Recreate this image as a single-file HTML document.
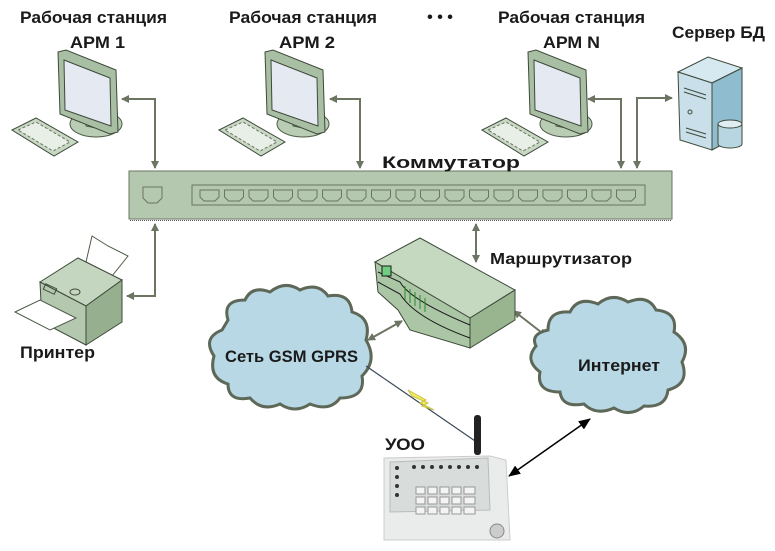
<!DOCTYPE html>
<html><head><meta charset="utf-8"><style>
html,body{margin:0;padding:0;background:#fff;}
svg{display:block;}
text{font-family:"Liberation Sans",sans-serif;font-weight:bold;fill:#1a1a1a;}
</style></head><body>
<svg width="775" height="551" viewBox="0 0 775 551" xmlns="http://www.w3.org/2000/svg">
<defs>
<marker id="ah" markerWidth="8" markerHeight="8" refX="7" refY="4" orient="auto" markerUnits="userSpaceOnUse"><path d="M0,0 L8,4 L0,8 z" fill="#6b7561"/></marker>
<marker id="ahs" markerWidth="8" markerHeight="8" refX="1" refY="4" orient="auto" markerUnits="userSpaceOnUse"><path d="M8,0 L0,4 L8,8 z" fill="#6b7561"/></marker>
<marker id="bk" markerWidth="12" markerHeight="10" refX="11" refY="5" orient="auto" markerUnits="userSpaceOnUse"><path d="M0,0 L12,5 L0,10 z" fill="#000"/></marker>
<marker id="bks" markerWidth="12" markerHeight="10" refX="1" refY="5" orient="auto" markerUnits="userSpaceOnUse"><path d="M12,0 L0,5 L12,10 z" fill="#000"/></marker>
<g id="pc">
 <ellipse cx="38" cy="72" rx="26" ry="13" fill="#b9cdb4" stroke="#4d5a48"/>
 <path d="M28,60 L48,66 L48,78 L28,74z" fill="#a7bda2" stroke="#4d5a48"/>
 <path d="M0,0 L8,-2 L58,18 L60,80 L52,82 L2,62z" fill="#a9bfa4" stroke="#3e4a3a"/>
 <path d="M6,8 L52,26 L53,74 L7,58z" fill="#e4e9f2" stroke="#3e4a3a"/>
 <path d="M-46,78 L-22,66 L20,90 L-4,104z" fill="#c9d8c5" stroke="#3e4a3a"/>
 <path d="M-40,78 L-22,70 L12,90 L-5,99z" fill="#e8efe6" stroke="#6b7561" stroke-dasharray="3,2"/>
</g>
</defs>

<g font-size="17">
<text x="20" y="23" textLength="147" lengthAdjust="spacingAndGlyphs">Рабочая станция</text>
<text x="70" y="48" textLength="55" lengthAdjust="spacingAndGlyphs">АРМ 1</text>
<text x="229" y="23" textLength="148" lengthAdjust="spacingAndGlyphs">Рабочая станция</text>
<text x="279" y="48" textLength="56" lengthAdjust="spacingAndGlyphs">АРМ 2</text>
<text x="498" y="23" textLength="147" lengthAdjust="spacingAndGlyphs">Рабочая станция</text>
<text x="543" y="48" textLength="57" lengthAdjust="spacingAndGlyphs">АРМ N</text>
<text x="672" y="38" textLength="93" lengthAdjust="spacingAndGlyphs">Сервер БД</text>
</g>
<text x="440" y="22" font-size="16" text-anchor="middle">• • •</text>

<use href="#pc" x="58" y="52"/>
<use href="#pc" x="265" y="52"/>
<use href="#pc" x="528" y="52"/>

<path d="M678,72 L708,57 L742,68 L712,83z" fill="#d6e8f0" stroke="#3e4a3a"/>
<path d="M678,72 L712,83 L712,150 L680,140z" fill="#c9e0ea" stroke="#3e4a3a"/>
<path d="M712,83 L742,68 L742,134 L712,150z" fill="#8fbccf" stroke="#3e4a3a"/>
<path d="M684,88 L706,95 M684,92 L706,99 M686,128 L706,134 M686,132 L706,138" stroke="#3e4a3a"/>
<circle cx="690" cy="112" r="2" fill="none" stroke="#3e4a3a"/>
<path d="M718,124 L718,144 A12,4 0 0 0 742,144 L742,124" fill="#b8d6e2" stroke="#3e4a3a"/>
<ellipse cx="730" cy="124" rx="12" ry="4" fill="#e0eef3" stroke="#3e4a3a"/>

<g stroke="#6b7561" stroke-width="2" fill="none">
<path d="M155,168 L155,99 L122,99" marker-end="url(#ah)" marker-start="url(#ahs)"/>
<path d="M360,168 L360,99 L330,99" marker-end="url(#ah)" marker-start="url(#ahs)"/>
<path d="M621,168 L621,99 L588,99" marker-end="url(#ah)" marker-start="url(#ahs)"/>
<path d="M637,168 L637,98 L672,98" marker-end="url(#ah)" marker-start="url(#ahs)"/>
<path d="M155,224 L155,296 L127,296" marker-end="url(#ah)" marker-start="url(#ahs)"/>
<path d="M476,224 L476,262" marker-end="url(#ah)" marker-start="url(#ahs)"/>
<path d="M368,340 L402,321" marker-end="url(#ah)" marker-start="url(#ahs)"/>
<path d="M514,311 L546,336" marker-end="url(#ah)" marker-start="url(#ahs)"/>
</g>

<rect x="129" y="171" width="543" height="48" fill="#b3c8ae" stroke="#6b7561"/>
<line x1="130" y1="220.5" x2="672" y2="220.5" stroke="#555" stroke-dasharray="1,1"/>
<text x="382" y="168" font-size="17" textLength="138" lengthAdjust="spacingAndGlyphs">Коммутатор</text>
<rect x="192" y="185" width="453" height="20" fill="none" stroke="#6b7561"/>
<path d="M143,187 L162,187 L162,198 L157,203 L148,203 L143,198z" fill="none" stroke="#6b7561"/>
<g fill="none" stroke="#6b7561">
<path id="pt" d="M200,190 L219,190 L219,197 L215,201 L204,201 L200,197z"/>
</g>
<g fill="none" stroke="#6b7561">
<use href="#pt" x="24.5"/><use href="#pt" x="49"/><use href="#pt" x="73.5"/><use href="#pt" x="98"/><use href="#pt" x="122.5"/><use href="#pt" x="147"/><use href="#pt" x="171.5"/><use href="#pt" x="196"/><use href="#pt" x="220.5"/><use href="#pt" x="245"/><use href="#pt" x="269.5"/><use href="#pt" x="294"/><use href="#pt" x="318.5"/><use href="#pt" x="343"/><use href="#pt" x="367.5"/><use href="#pt" x="392"/><use href="#pt" x="416.5"/>
</g>

<path d="M92,236 L108,246 L128,256 L112,276 L86,262z" fill="#fff" stroke="#4d5a48"/>
<path d="M40,282 L78,258 L122,280 L86,306z" fill="#c4d6bf" stroke="#3e4a3a"/>
<path d="M40,282 L86,306 L86,345 L42,322z" fill="#b3c8ae" stroke="#3e4a3a"/>
<path d="M86,306 L122,280 L122,322 L86,345z" fill="#96b08f" stroke="#3e4a3a"/>
<path d="M15,312 L40,300 L76,318 L50,330z" fill="#fff" stroke="#4d5a48"/>
<rect x="44" y="286" width="12" height="6" fill="none" stroke="#3e4a3a" transform="rotate(25 50 289)"/>
<ellipse cx="75" cy="292" rx="5" ry="3" fill="none" stroke="#3e4a3a"/>
<text x="20" y="358" font-size="17" textLength="75" lengthAdjust="spacingAndGlyphs">Принтер</text>

<path d="M375,262 L420,238 L515,290 L470,318z" fill="#c4d9bf" stroke="#3e4a3a"/>
<path d="M375,262 L470,318 L470,348 L410,330 L398,310 L378,292z" fill="#abc6a5" stroke="#3e4a3a"/>
<path d="M470,318 L515,290 L515,320 L470,348z" fill="#98b590" stroke="#3e4a3a"/>
<path d="M378,272 L400,282 Q410,300 470,325 M378,282 L400,294 Q415,318 470,338" fill="none" stroke="#1a1a1a"/>
<rect x="382" y="266" width="9" height="10" fill="#6fcf80" stroke="#1a1a1a"/>
<path d="M405,286 L405,300 M410,289 L410,303 M415,292 L415,306 M420,295 L420,309 M425,298 L425,312" stroke="#2a8a2a"/>
<text x="490" y="264" font-size="16" textLength="142" lengthAdjust="spacingAndGlyphs">Маршрутизатор</text>

<path d="M228,320 Q222,300 245,300 Q252,285 270,292 Q285,280 300,290 Q318,282 328,296 Q350,292 352,312 Q372,318 366,340 Q378,360 362,376 Q366,398 340,398 Q330,412 310,404 Q295,414 280,404 Q262,412 250,398 Q228,402 228,384 Q208,378 214,356 Q202,338 222,330z" fill="#b7d8e4" stroke="#5e6858" stroke-width="3"/>
<text x="225" y="362" font-size="17" textLength="133" lengthAdjust="spacingAndGlyphs">Сеть GSM GPRS</text>
<path d="M548,330 Q548,310 570,312 Q578,296 598,304 Q612,292 628,302 Q648,294 656,310 Q678,312 674,332 Q692,344 682,362 Q690,384 668,390 Q666,408 644,406 Q630,418 614,408 Q596,416 584,404 Q562,408 560,392 Q536,392 540,372 Q524,360 536,346 Q530,334 548,330z" fill="#b7d8e4" stroke="#5e6858" stroke-width="3"/>
<text x="578" y="371" font-size="17" textLength="82" lengthAdjust="spacingAndGlyphs">Интернет</text>

<line x1="366" y1="366" x2="478" y2="443" stroke="#3a4a5a" stroke-width="1.2"/>
<path d="M408,390 L426,400 L420,403 L434,410 L422,406 L428,403 L412,396z" fill="#f2f060" stroke="#c8c040"/>
<line x1="509" y1="476" x2="590" y2="419" stroke="#000" stroke-width="1.5" marker-end="url(#bk)" marker-start="url(#bks)"/>

<text x="385" y="450" font-size="17" textLength="40" lengthAdjust="spacingAndGlyphs">УОО</text>
<rect x="474" y="415" width="7" height="40" rx="3" fill="#222"/>
<path d="M384,458 L490,456 L506,460 L510,540 L384,540z" fill="#e9ecea" stroke="#ccc"/>
<path d="M390,462 L488,458 L490,510 L390,512z" fill="#d8dcdb" stroke="#bbb"/>
<g fill="#333"><circle cx="397" cy="468" r="2"/><circle cx="397" cy="477" r="2"/><circle cx="397" cy="486" r="2"/><circle cx="397" cy="495" r="2"/>
<circle cx="414" cy="467" r="2"/><circle cx="423" cy="467" r="2"/><circle cx="432" cy="467" r="2"/><circle cx="441" cy="467" r="2"/><circle cx="450" cy="467" r="2"/><circle cx="459" cy="467" r="2"/><circle cx="468" cy="467" r="2"/><circle cx="477" cy="467" r="2"/></g>
<g fill="#f4f4f4" stroke="#999"><rect x="416" y="487" width="9" height="7"/><rect x="428" y="487" width="9" height="7"/><rect x="440" y="487" width="9" height="7"/><rect x="452" y="487" width="9" height="7"/><rect x="464" y="487" width="11" height="7"/>
<rect x="416" y="497" width="9" height="7"/><rect x="428" y="497" width="9" height="7"/><rect x="440" y="497" width="9" height="7"/><rect x="452" y="497" width="9" height="7"/><rect x="464" y="497" width="11" height="7"/>
<rect x="416" y="507" width="9" height="7"/><rect x="428" y="507" width="9" height="7"/><rect x="440" y="507" width="9" height="7"/><rect x="452" y="507" width="9" height="7"/><rect x="464" y="507" width="11" height="7"/></g>
<circle cx="497" cy="531" r="7" fill="#ccc" stroke="#888"/>
</svg>
</body></html>
